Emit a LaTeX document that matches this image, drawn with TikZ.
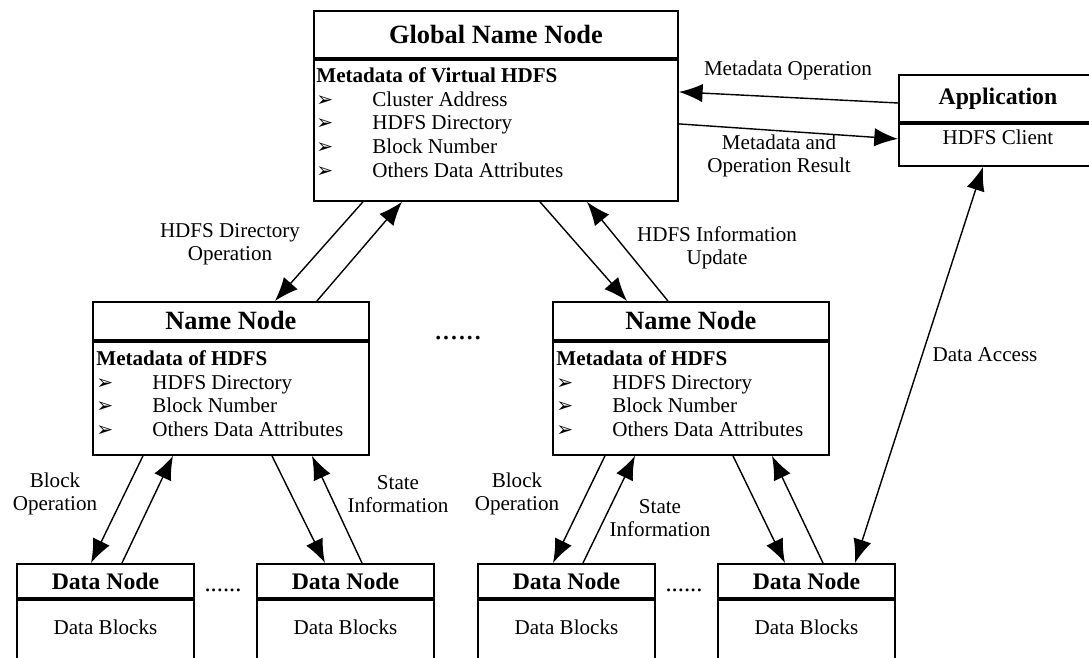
\documentclass[tikz,border=0pt]{standalone}
\usepackage{fontspec}
\setmainfont{Liberation Serif}
\newfontfamily\symfont{DejaVu Sans}
\usetikzlibrary{positioning, arrows.meta}

\newcommand{\bul}{{\symfont\fontsize{11.5}{12}\selectfont ➢}}
\newcommand{\itm}[1]{\makebox[1.12cm][l]{\bul}#1}
\newcommand{\headfont}{\fontsize{15}{18}\selectfont\bfseries}
\newcommand{\smallhead}{\fontsize{13.5}{16}\selectfont\bfseries}
\newcommand{\txtfont}{\fontsize{12}{13.6}\selectfont}

\tikzset{
	headbox/.style = {draw, line width = 1.1pt, anchor = north west, inner sep = 0pt},
	bodybox/.style = {draw, line width = 1.1pt, inner sep = 0pt, font = \txtfont},
	listtext/.style = {anchor = north west, inner sep = 0pt, align = left, font = \txtfont},
	lbl/.style = {inner sep = 0pt, align = center, font = \fontsize{12}{13}\selectfont}
}

\begin{document}
\begin{tikzpicture}[x = 0.02cm, y = -0.02cm, > = {Latex[length = 13.5pt, width = 10.5pt]}]

	\useasboundingbox (0, 0) rectangle (1089, 658);

	% Global name node
	\node [headbox, font = \headfont, minimum width = 7.28cm, minimum height = 0.94cm] (gnn) at (313, 10) {Global Name Node};
	\node [bodybox, minimum width = 7.28cm, minimum height = 2.82cm, below = 0pt of gnn] (gnn-body) {};
	\node [listtext] (gnn-list) at (316, 67) {\textbf{Metadata of Virtual HDFS}\\ \itm{Cluster Address}\\ \itm{HDFS Directory}\\ \itm{Block Number}\\ \itm{Others Data Attributes}};

	% Application
	\node [headbox, font = \smallhead, minimum width = 3.96cm, minimum height = 0.94cm] (app) at (898, 74) {Application};
	\node [bodybox, minimum width = 3.96cm, text height = 0.42cm, text depth = 0.42cm, below = 0pt of app] (app-body) {HDFS Client};

	% Name nodes
	\node [headbox, font = \headfont, minimum width = 5.52cm, minimum height = 0.76cm] (nn1) at (92, 301) {Name Node};
	\node [bodybox, minimum width = 5.52cm, minimum height = 2.26cm, below = 0pt of nn1] (nn1-body) {};
	\node [listtext] (nn1-list) at (96, 350) {\textbf{Metadata of HDFS}\\ \itm{HDFS Directory}\\ \itm{Block Number}\\ \itm{Others Data Attributes}};

	\node [headbox, font = \headfont, minimum width = 5.52cm, minimum height = 0.76cm] (nn2) at (552, 301) {Name Node};
	\node [bodybox, minimum width = 5.52cm, minimum height = 2.26cm, below = 0pt of nn2] (nn2-body) {};
	\node [listtext] (nn2-list) at (556, 350) {\textbf{Metadata of HDFS}\\ \itm{HDFS Directory}\\ \itm{Block Number}\\ \itm{Others Data Attributes}};

	% Data nodes (cut off at the bottom edge)
	\foreach \i/\x in {1/16, 2/256, 3/477, 4/717} {
		\node [headbox, font = \smallhead, minimum width = 3.54cm, minimum height = 0.68cm] (dn\i) at (\x, 563) {Data Node};
		\node [bodybox, minimum width = 3.54cm, text height = 0.7cm, text depth = 1cm, below = 0pt of dn\i] (dn\i-body) {Data Blocks};
	}

	\node [font = \fontsize{18}{18}\selectfont] (dots-nn) at (458, 338) {......};
	\node [font = \fontsize{14}{14}\selectfont] (dots-dn1) at (223, 590) {......};
	\node [font = \fontsize{14}{14}\selectfont] (dots-dn2) at (684, 590) {......};

	% Connectors
	\begin{scope}[->, line width = 0.8pt]

		\draw ([yshift = -0.58cm] app.north west) -- ([yshift = -0.66cm] gnn-body.north east);
		\draw ([yshift = -1.3cm] gnn-body.north east) -- ([yshift = -0.32cm] app-body.north west);

		\draw ([xshift = 1cm] gnn-body.south west) -- ([xshift = 3.66cm] nn1.north west);
		\draw ([xshift = 4.5cm] nn1.north west) -- ([xshift = 1.78cm] gnn-body.south west);
		\draw ([xshift = 4.54cm] gnn-body.south west) -- ([xshift = 1.5cm] nn2.north west);
		\draw ([xshift = 2.32cm] nn2.north west) -- ([xshift = 5.48cm] gnn-body.south west);

		\draw ([xshift = 1.02cm] nn1-body.south west) -- ([xshift = 1.5cm] dn1.north west);
		\draw ([xshift = 2.12cm] dn1.north west) -- ([xshift = 1.62cm] nn1-body.south west);
		\draw ([xshift = 3.6cm] nn1-body.south west) -- ([xshift = 1.38cm] dn2.north west);
		\draw ([xshift = 2.12cm] dn2.north west) -- ([xshift = 4.4cm] nn1-body.south west);

		\draw ([xshift = 1.06cm] nn2-body.south west) -- ([xshift = 1.52cm] dn3.north west);
		\draw ([xshift = 2.12cm] dn3.north west) -- ([xshift = 1.66cm] nn2-body.south west);
		\draw ([xshift = 3.62cm] nn2-body.south west) -- ([xshift = 1.36cm] dn4.north west);
		\draw ([xshift = 2.12cm] dn4.north west) -- ([xshift = 4.4cm] nn2-body.south west);

		\draw [<->] ([xshift = 2.76cm] dn4.north west) -- ([xshift = 1.7cm] app-body.south west);

	\end{scope}

	% Connector labels
	\node [lbl] (lbl-mop) at (788, 70) {Metadata Operation};
	\node [lbl] (lbl-mres) at (779, 156) {Metadata and\\Operation Result};
	\node [lbl] (lbl-dirop) at (230, 244) {HDFS Directory\\Operation};
	\node [lbl] (lbl-info) at (717, 248) {HDFS Information\\Update};
	\node [lbl] (lbl-blk1) at (55, 494) {Block\\Operation};
	\node [lbl] (lbl-st1) at (398, 494) {State\\Information};
	\node [lbl] (lbl-blk2) at (517, 494) {Block\\Operation};
	\node [lbl] (lbl-st2) at (660, 518) {State\\Information};
	\node [lbl] (lbl-acc) at (985, 355) {Data Access};

\end{tikzpicture}
\end{document}
